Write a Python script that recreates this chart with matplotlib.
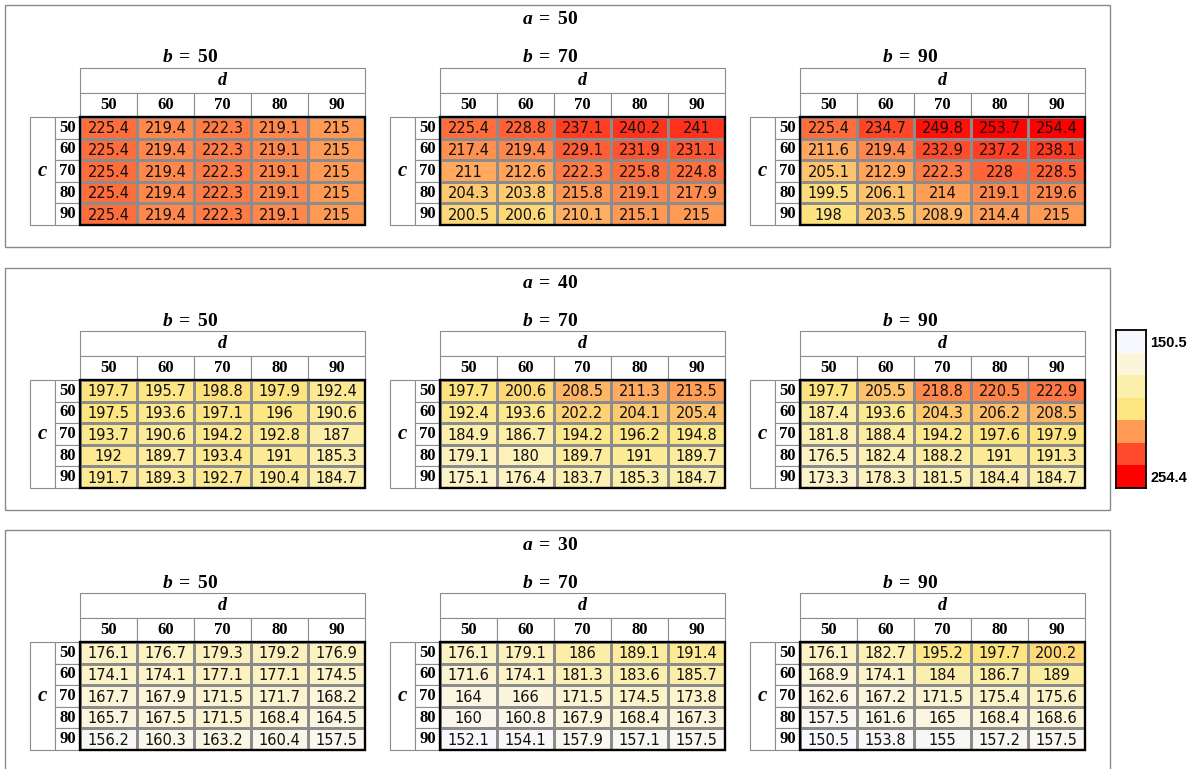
import numpy as np
import matplotlib
matplotlib.use("Agg")
import matplotlib.pyplot as plt
from matplotlib.colors import LinearSegmentedColormap, ListedColormap, Normalize
from matplotlib.patches import Rectangle

# levels of the four factors
a_levels = [50, 40, 30]
b_levels = [50, 70, 90]
c_levels = [50, 60, 70, 80, 90]
d_levels = [50, 60, 70, 80, 90]

# response values, rows = c, columns = d
a50_b50 = [[225.4, 219.4, 222.3, 219.1, 215],
           [225.4, 219.4, 222.3, 219.1, 215],
           [225.4, 219.4, 222.3, 219.1, 215],
           [225.4, 219.4, 222.3, 219.1, 215],
           [225.4, 219.4, 222.3, 219.1, 215]]
a50_b70 = [[225.4, 228.8, 237.1, 240.2, 241],
           [217.4, 219.4, 229.1, 231.9, 231.1],
           [211, 212.6, 222.3, 225.8, 224.8],
           [204.3, 203.8, 215.8, 219.1, 217.9],
           [200.5, 200.6, 210.1, 215.1, 215]]
a50_b90 = [[225.4, 234.7, 249.8, 253.7, 254.4],
           [211.6, 219.4, 232.9, 237.2, 238.1],
           [205.1, 212.9, 222.3, 228, 228.5],
           [199.5, 206.1, 214, 219.1, 219.6],
           [198, 203.5, 208.9, 214.4, 215]]

a40_b50 = [[197.7, 195.7, 198.8, 197.9, 192.4],
           [197.5, 193.6, 197.1, 196, 190.6],
           [193.7, 190.6, 194.2, 192.8, 187],
           [192, 189.7, 193.4, 191, 185.3],
           [191.7, 189.3, 192.7, 190.4, 184.7]]
a40_b70 = [[197.7, 200.6, 208.5, 211.3, 213.5],
           [192.4, 193.6, 202.2, 204.1, 205.4],
           [184.9, 186.7, 194.2, 196.2, 194.8],
           [179.1, 180, 189.7, 191, 189.7],
           [175.1, 176.4, 183.7, 185.3, 184.7]]
a40_b90 = [[197.7, 205.5, 218.8, 220.5, 222.9],
           [187.4, 193.6, 204.3, 206.2, 208.5],
           [181.8, 188.4, 194.2, 197.6, 197.9],
           [176.5, 182.4, 188.2, 191, 191.3],
           [173.3, 178.3, 181.5, 184.4, 184.7]]

a30_b50 = [[176.1, 176.7, 179.3, 179.2, 176.9],
           [174.1, 174.1, 177.1, 177.1, 174.5],
           [167.7, 167.9, 171.5, 171.7, 168.2],
           [165.7, 167.5, 171.5, 168.4, 164.5],
           [156.2, 160.3, 163.2, 160.4, 157.5]]
a30_b70 = [[176.1, 179.1, 186, 189.1, 191.4],
           [171.6, 174.1, 181.3, 183.6, 185.7],
           [164, 166, 171.5, 174.5, 173.8],
           [160, 160.8, 167.9, 168.4, 167.3],
           [152.1, 154.1, 157.9, 157.1, 157.5]]
a30_b90 = [[176.1, 182.7, 195.2, 197.7, 200.2],
           [168.9, 174.1, 184, 186.7, 189],
           [162.6, 167.2, 171.5, 175.4, 175.6],
           [157.5, 161.6, 165, 168.4, 168.6],
           [150.5, 153.8, 155, 157.2, 157.5]]

tables = [[a50_b50, a50_b70, a50_b90],
          [a40_b50, a40_b70, a40_b90],
          [a30_b50, a30_b70, a30_b90]]

# colour scale
scale_colors = ["#F8F8FF", "#FCF5D9", "#FCEFAC", "#FDE680",
                "#FF9A55", "#FF4B2B", "#FF0000"]
scale_stops = [0.0, 0.17, 0.33, 0.45, 0.62, 0.80, 1.0]

W, H = 1192, 769
fig = plt.figure(figsize=(W / 100, H / 100), dpi=100)
fig.patch.set_facecolor("white")

SERIF = "Liberation Serif"
SANS = "DejaVu Sans"
GRID = "#8C8C8C"
plt.rcParams["mathtext.fontset"] = "custom"
plt.rcParams["mathtext.it"] = "Liberation Serif:italic:bold"
plt.rcParams["mathtext.rm"] = "Liberation Serif:bold"
plt.rcParams["mathtext.bf"] = "Liberation Serif:bold"

all_vals = np.array(tables, dtype=float)
vmin, vmax = all_vals.min(), all_vals.max()
norm = Normalize(vmin=vmin, vmax=vmax)
cmap = LinearSegmentedColormap.from_list("scale", list(zip(scale_stops, scale_colors)))


def px_axes(x, y, w, h):
    return fig.add_axes([x / W, 1 - (y + h) / H, w / W, h / H])


# background axes in pixel units for the group boxes and titles
bg = px_axes(0, 0, W, H)
bg.set_xlim(0, W)
bg.set_ylim(H, 0)
bg.axis("off")

box_top = [5, 268, 530]
col_w, row_h = 57, 21.6
hd_d, hd_num, lab_w = 25, 24, 25

for i, a in enumerate(a_levels):
    top = box_top[i]
    bg.add_patch(Rectangle((5, top), 1105, 242, fill=False, ec="#8A8A8A", lw=1.0))
    bg.text(550, top + 14, "$a\\;=\\;%d$" % a, ha="center", va="center", fontsize=14)

    for j, b in enumerate(b_levels):
        vals = np.array(tables[i][j], dtype=float)
        x0 = 80 + 360 * j
        y0 = top + 112
        ax = px_axes(x0, y0, 5 * col_w, 5 * row_h)
        ax.pcolormesh(vals, cmap=cmap, norm=norm, edgecolors=GRID, linewidth=0.8)
        ax.set_xlim(0, 5)
        ax.set_ylim(5, 0)
        ax.axis("off")

        for r in range(len(c_levels)):
            for k in range(len(d_levels)):
                ax.text(k + 0.5, r + 0.55, "%g" % vals[r, k], ha="center", va="center",
                        fontsize=10.5, family=SANS, color="#111111")
        ax.add_patch(Rectangle((0, 0), 5, 5, fill=False, ec="black", lw=1.7,
                               clip_on=False, zorder=5))

        # column headers
        uy_d, uy_n = hd_d / row_h, hd_num / row_h
        ax.add_patch(Rectangle((0, -uy_d - uy_n), 5, uy_d, fc="white", ec=GRID,
                               lw=0.8, clip_on=False))
        ax.text(2.5, -uy_n - uy_d / 2, "d", ha="center", va="center", fontsize=13,
                family=SERIF, weight="bold", style="italic")
        for k, d in enumerate(d_levels):
            ax.add_patch(Rectangle((k, -uy_n), 1, uy_n, fc="white", ec=GRID,
                                   lw=0.8, clip_on=False))
            ax.text(k + 0.5, -uy_n / 2, str(d), ha="center", va="center",
                    fontsize=12, family=SERIF, weight="bold")

        # row headers
        ux = lab_w / col_w
        ax.add_patch(Rectangle((-2 * ux, 0), ux, 5, fc="white", ec=GRID,
                               lw=0.8, clip_on=False))
        ax.text(-1.5 * ux, 2.5, "c", ha="center", va="center", fontsize=15,
                family=SERIF, weight="bold", style="italic")
        for r, c in enumerate(c_levels):
            ax.add_patch(Rectangle((-ux, r), ux, 1, fc="white", ec=GRID,
                                   lw=0.8, clip_on=False))
            ax.text(-ux / 2, r + 0.5, str(c), ha="center", va="center",
                    fontsize=12, family=SERIF, weight="bold")

        # panel title
        ax.text((-2 * lab_w + 160) / col_w, -60 / row_h, "$b\\;=\\;%d$" % b,
                ha="center", va="center", fontsize=14)

# legend of the colour scale
cax = px_axes(1116, 330, 30, 158)
cax.imshow(np.arange(len(scale_colors))[:, None], cmap=ListedColormap(scale_colors),
           aspect="auto")
cax.set_xticks([])
cax.yaxis.tick_right()
cax.set_yticks([0, len(scale_colors) - 1])
cax.set_yticklabels(["%g" % vmin, "%g" % vmax], fontsize=10.5, weight="bold",
                    family="Liberation Sans")
cax.tick_params(axis="y", length=0, pad=3)
for s in cax.spines.values():
    s.set_linewidth(1.3)
    s.set_color("black")

fig.savefig("out.png", dpi=100)
